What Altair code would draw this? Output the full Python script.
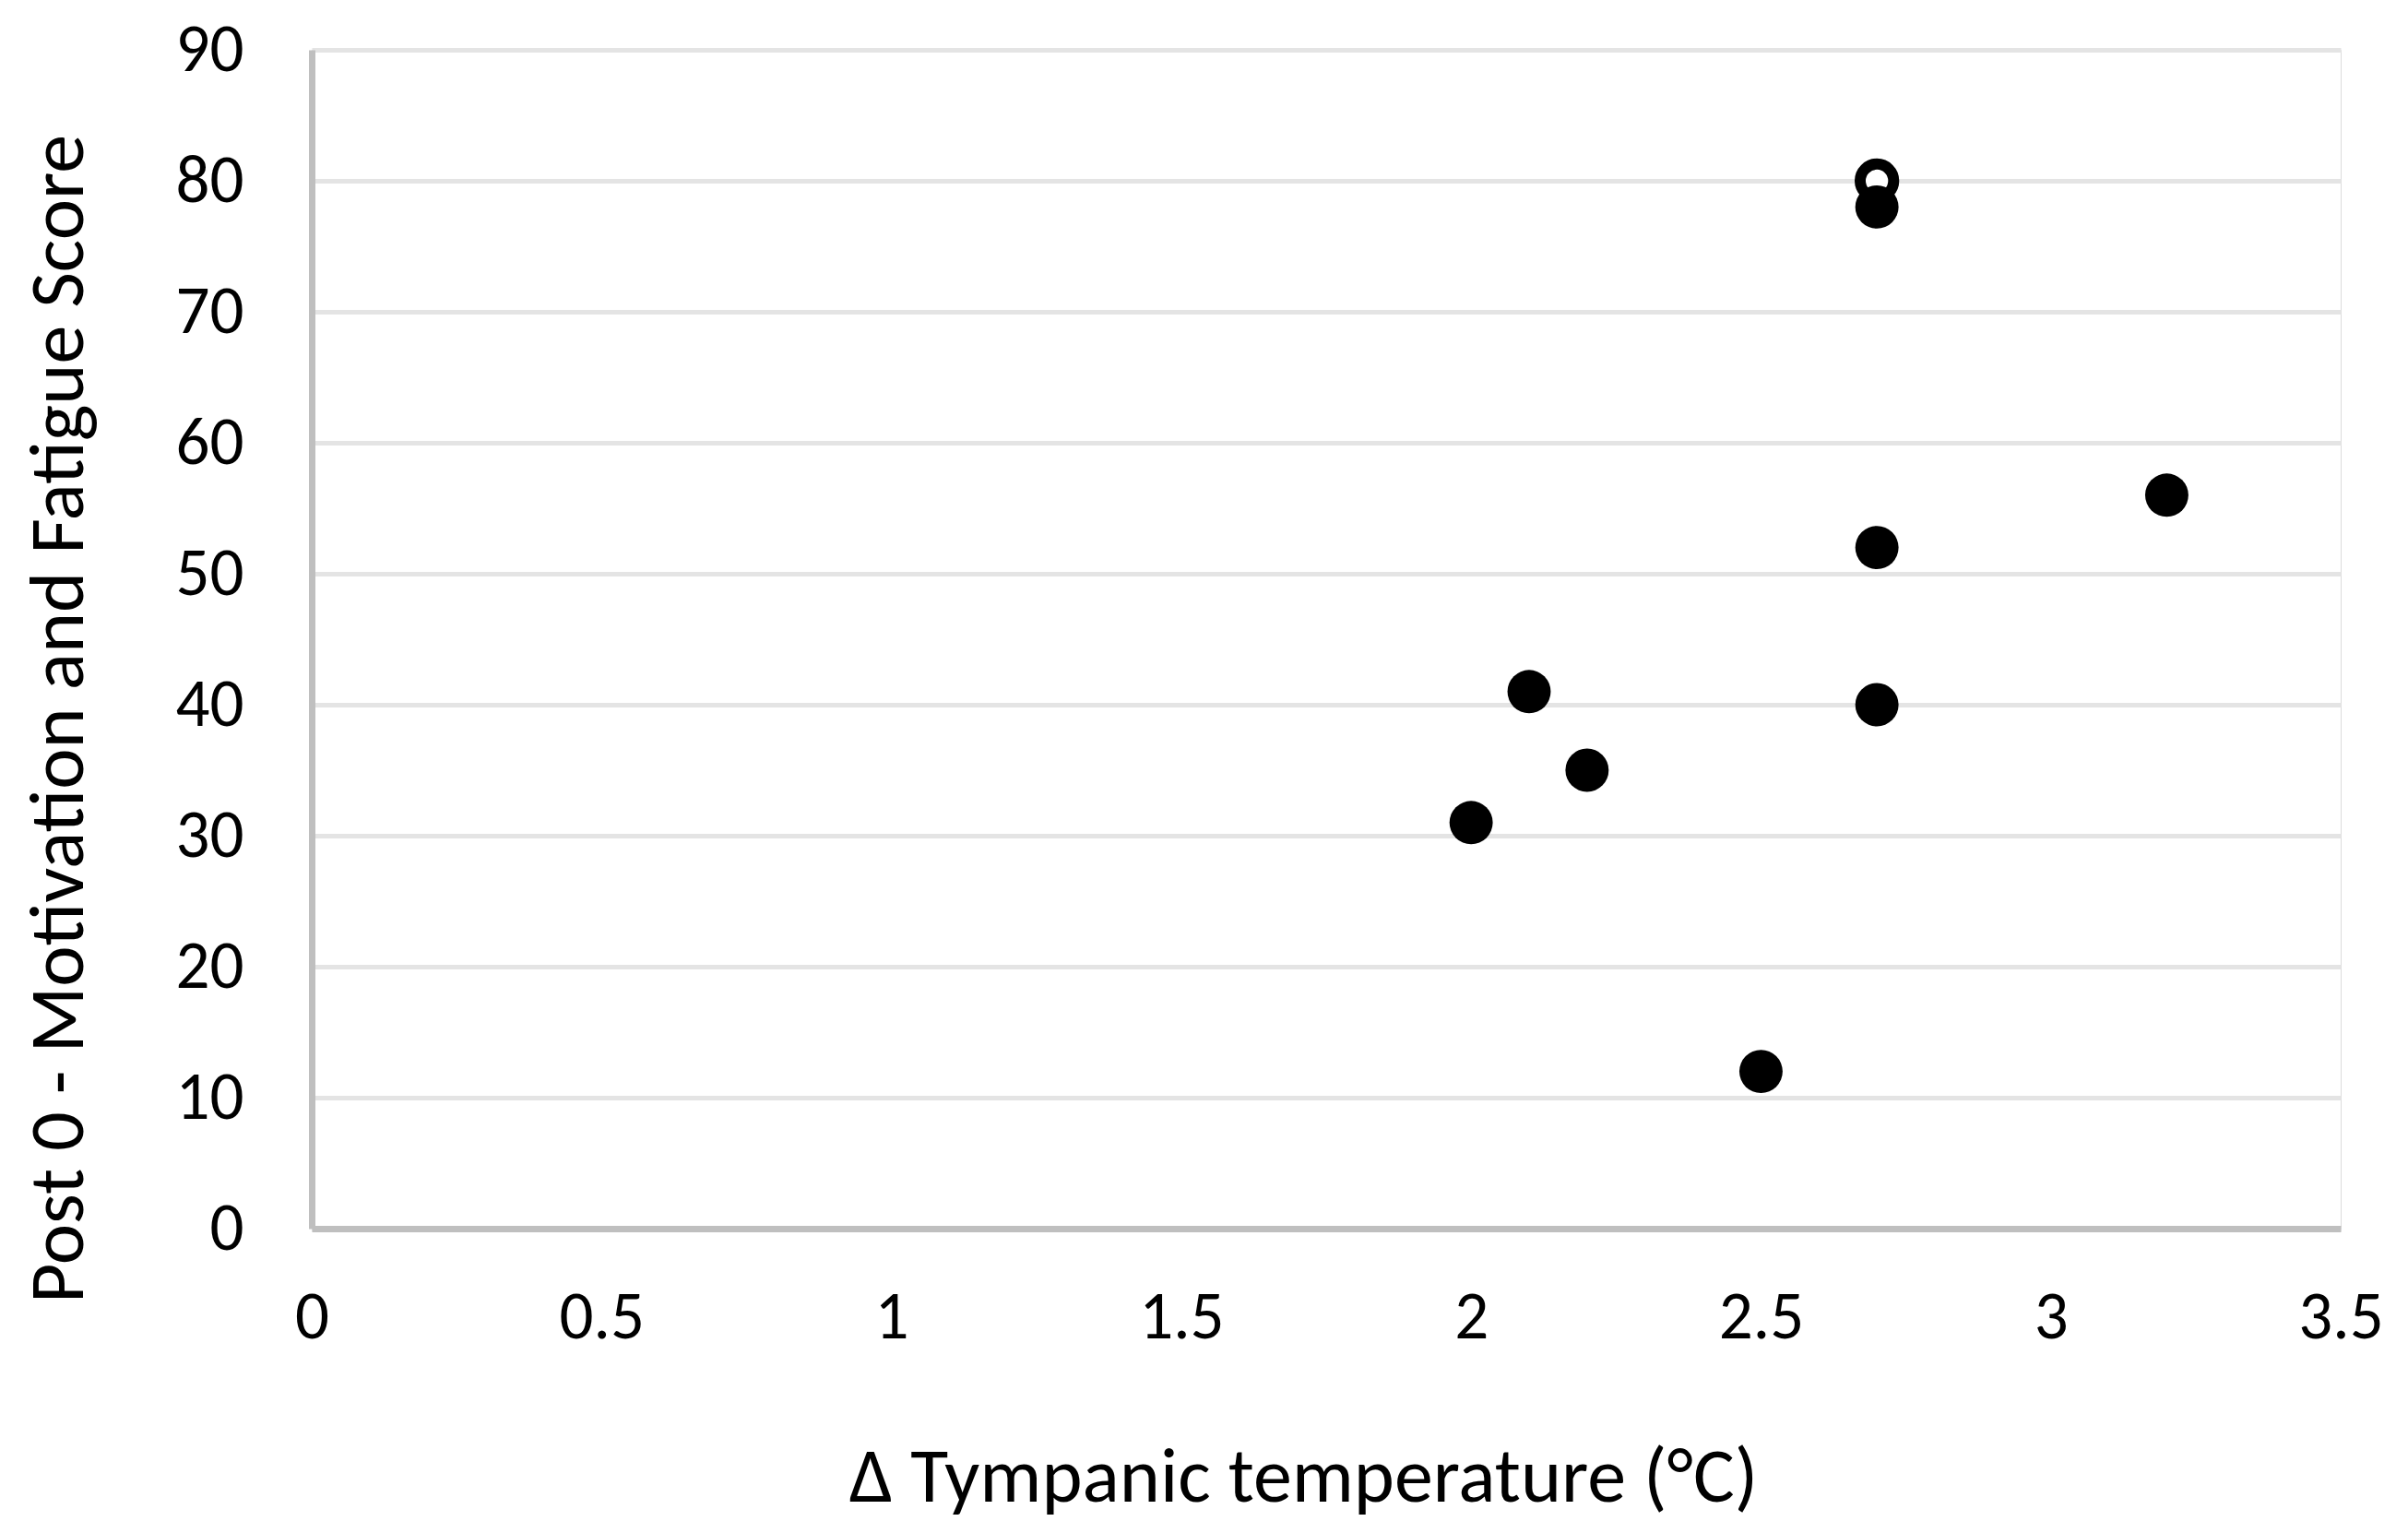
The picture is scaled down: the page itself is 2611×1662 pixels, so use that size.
import altair as alt
import pandas as pd

# Data
temp_change = [2.7, 2.7, 2.7, 3.2, 2.1, 2.2, 2.0, 2.5]
score = [78, 52, 40, 56, 41, 35, 31, 12]
ring_x = [2.7]
ring_y = [80]

x_ticks = [0, 0.5, 1, 1.5, 2, 2.5, 3, 3.5]
y_ticks = [0, 10, 20, 30, 40, 50, 60, 70, 80, 90]

df = pd.DataFrame({"x": temp_change, "y": score})
ring = pd.DataFrame({"x": ring_x, "y": ring_y})

FONT = "Carlito, Calibri, Lato"
W, H = 2200, 1278

xscale = alt.Scale(domain=[0, 3.5], nice=False, zero=True)
yscale = alt.Scale(domain=[0, 90], nice=False, zero=True)

xaxis = alt.Axis(
    values=x_ticks, format="~g", grid=False, ticks=False, domain=True,
    domainColor="#bfbfbf", domainWidth=7,
    labelFont=FONT, labelFontSize=73, labelColor="#000000",
    labelPadding=60, labelFlush=False, labelOverlap=False,
    title="Δ Tympanic temperature (°C)",
    titleFont=FONT, titleFontSize=84, titleFontWeight="normal", titleColor="#000000",
    titleX=1075, titleY=270, titleBaseline="middle", titleAlign="center",
)
yaxis = alt.Axis(
    values=y_ticks, format="~g", grid=True, gridColor="#e4e4e4", gridWidth=5,
    ticks=False, domain=True, domainColor="#bfbfbf", domainWidth=7,
    labelFont=FONT, labelFontSize=73, labelColor="#000000",
    labelPadding=74, labelFlush=False, labelOverlap=False,
    title="Post 0 - Motivation and Fatigue Score",
    titleFont=FONT, titleFontSize=84, titleFontWeight="normal", titleColor="#000000",
    titleX=-274, titleY=725, titleAngle=-90, titleBaseline="middle", titleAlign="center",
)

ring_layer = alt.Chart(ring).mark_point(
    shape="circle", filled=False, stroke="#000000", fill="#ffffff",
    fillOpacity=1, strokeWidth=12, size=1320, opacity=1,
).encode(
    x=alt.X("x:Q", scale=xscale, axis=xaxis),
    y=alt.Y("y:Q", scale=yscale, axis=yaxis),
)

pts = alt.Chart(df).mark_point(
    shape="circle", filled=True, color="#000000", size=2200, opacity=1,
).encode(
    x=alt.X("x:Q", scale=xscale),
    y=alt.Y("y:Q", scale=yscale),
)

chart = alt.layer(ring_layer, pts).properties(
    width=W, height=H,
    autosize=alt.AutoSizeParams(type="none"),
    padding={"left": 330, "top": 46, "right": 65, "bottom": 320},
).configure_view(stroke=None).configure(background="#ffffff")

chart.save("out.html", embed_options={"renderer": "svg", "actions": False})
